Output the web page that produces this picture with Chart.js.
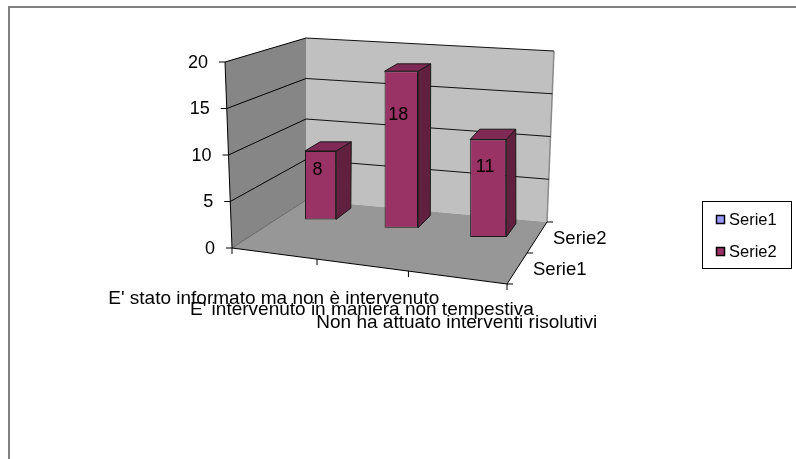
<!DOCTYPE html>
<html><head><meta charset="utf-8">
<script src="https://cdn.jsdelivr.net/npm/chart.js@4"></script>
<style>html,body{margin:0;padding:0;background:#fff;overflow:hidden}#wrap{width:796px;height:459px;position:relative}</style>
</head><body><div id="wrap"><canvas id="c" width="796" height="459"></canvas></div>
<script>
// ---- data ----
const categories = ["E' stato informato ma non è intervenuto", "E' intervenuto in maniera non tempestiva", "Non ha attuato interventi risolutivi"];
const seriesNames = ["Serie1", "Serie2"];
const serie1 = [null, null, null];
const serie2 = [8, 18, 11];
const valueMin = 0, valueMax = 20, valueStep = 5;

// ---- style ----
const seriesColors = ["#9999FF", "#993366"];
const sideColors = ["#66669a", "#62203f"];
const topColors = ["#7a7acc", "#7e2a55"];
const FONT = "'Liberation Sans', Arial, sans-serif";
// 3D box corners (px offsets from the front-left-bottom corner, for a 275x186 front plane)
const BOX = {
  flb:[0,0], flt:[-7,-186], frb:[275,36], frt:[284,-160],
  blb:[74,-48], blt:[74,-210], brb:[315,-26], brt:[322,-197],
  persp:-0.105, refW:275, refH:186
};
const BAR_DEPTH = 0.22;
const BAR_FRONT_INSET = 0.18; // front face position inside each series row (fraction of depth)

function proj(chart, u, d, v) {
  const ca = chart.chartArea, ys = chart.scales.y;
  const y0 = ys.getPixelForValue(valueMin);
  const H = y0 - ys.getPixelForValue(valueMax);
  const W = ca.right - ca.left;
  const t = (y0 - ys.getPixelForValue(v)) / H;
  const b = BOX.persp;
  const uu = (1 + b) * u / (1 + b * u);
  const sx = W / BOX.refW, sy = H / BOX.refH;
  const bil = (a, bb, c, dd) => [
    (1-uu)*(1-d)*a[0] + uu*(1-d)*bb[0] + (1-uu)*d*c[0] + uu*d*dd[0],
    (1-uu)*(1-d)*a[1] + uu*(1-d)*bb[1] + (1-uu)*d*c[1] + uu*d*dd[1]
  ];
  const bot = bil(BOX.flb, BOX.frb, BOX.blb, BOX.brb);
  const top = bil(BOX.flt, BOX.frt, BOX.blt, BOX.brt);
  return { x: ca.left + (bot[0] + t*(top[0]-bot[0]))*sx, y: y0 + (bot[1] + t*(top[1]-bot[1]))*sy };
}

function poly(ctx, pts, fill, stroke, lw) {
  ctx.beginPath();
  pts.forEach((p, i) => i ? ctx.lineTo(p.x, p.y) : ctx.moveTo(p.x, p.y));
  ctx.closePath();
  if (fill) { ctx.fillStyle = fill; ctx.fill(); }
  if (stroke) { ctx.strokeStyle = stroke; ctx.lineWidth = lw || 1; ctx.stroke(); }
}
function line(ctx, a, b, color, lw) {
  ctx.beginPath(); ctx.moveTo(a.x, a.y); ctx.lineTo(b.x, b.y);
  ctx.strokeStyle = color; ctx.lineWidth = lw || 1; ctx.stroke();
}

const plot3d = {
  id: 'plot3d',
  afterDatasetsUpdate(chart) {
    const ca = chart.chartArea, W = ca.right - ca.left;
    const n = chart.data.datasets.length;
    chart.data.datasets.forEach((ds, di) => {
      const meta = chart.getDatasetMeta(di);
      const df = (di + BAR_FRONT_INSET * 2) / n, db = df + BAR_DEPTH;
      meta.data.forEach((el, i) => {
        const v = ds.data[i];
        el.$3d = null;
        if (v == null) return;
        const u = (el.x - ca.left) / W, hw = el.width / 2 / W;
        const pL = proj(chart, u - hw, df, valueMin), pR = proj(chart, u + hw, df, valueMin);
        const pC = proj(chart, u, df, valueMin), pT = proj(chart, u, df, v);
        const bR0 = proj(chart, u + hw, db, valueMin), bRt = proj(chart, u + hw, db, v), fRt = proj(chart, u + hw, df, v);
        el.x = pC.x; el.base = pC.y; el.y = pT.y; el.width = pR.x - pL.x;
        el.$3d = { dBot: {x: bR0.x - pR.x, y: bR0.y - pR.y}, dTop: {x: bRt.x - fRt.x, y: bRt.y - fRt.y}, di, v };
      });
    });
  },
  beforeDatasetsDraw(chart) {
    const ctx = chart.ctx, ys = chart.scales.y;
    const P = (u, d, v) => proj(chart, u, d, v);
    ctx.save();
    // walls and floor
    poly(ctx, [P(0,0,valueMin), P(0,0,valueMax), P(0,1,valueMax), P(0,1,valueMin)], '#868686');
    poly(ctx, [P(0,1,valueMin), P(0,1,valueMax), P(1,1,valueMax), P(1,1,valueMin)], '#c0c0c0');
    poly(ctx, [P(0,0,valueMin), P(0,1,valueMin), P(1,1,valueMin), P(1,0,valueMin)], '#979797');
    line(ctx, P(1,1,valueMin), P(1,1,valueMax), '#8a8a8a', 1.5);
    line(ctx, P(0,0,valueMin), P(0,1,valueMin), '#555', 0.8);
    // gridlines
    ys.ticks.forEach(tk => {
      if (tk.value === valueMin) return;
      line(ctx, P(0,0,tk.value), P(0,1,tk.value), '#000', 1);
      line(ctx, P(0,1,tk.value), P(1,1,tk.value), '#111', 1.1);
    });
    // value axis
    line(ctx, P(0,0,valueMin), P(0,0,valueMax), '#000', 1);
    ctx.font = '18px ' + FONT; ctx.fillStyle = '#000';
    ctx.textAlign = 'right'; ctx.textBaseline = 'middle';
    ys.ticks.forEach(tk => {
      const p = P(0,0,tk.value);
      line(ctx, {x: p.x - 6, y: p.y}, p, '#000', 1);
      ctx.fillText(String(tk.value), p.x - 17, p.y + 1);
    });
    // category axis
    const nc = chart.data.labels.length;
    line(ctx, P(0,0,valueMin), P(1,0,valueMin), '#000', 1);
    for (let k = 0; k <= nc; k++) {
      const p = P(k/nc, 0, valueMin);
      line(ctx, p, {x: p.x, y: p.y + 6}, '#000', 1);
    }
    ctx.font = '19px ' + FONT; ctx.textAlign = 'center';
    chart.data.labels.forEach((lab, k) => {
      const p = P((k + 0.5)/nc, 0, valueMin);
      ctx.fillText(lab, p.x, p.y + 45);
    });
    // series (depth) axis
    const ns = chart.data.datasets.length;
    line(ctx, P(1,0,valueMin), P(1,1,valueMin), '#000', 1);
    for (let k = 0; k <= ns; k++) {
      const p = P(1, k/ns, valueMin);
      line(ctx, p, {x: p.x + 6, y: p.y}, '#000', 1);
    }
    ctx.font = '18.5px ' + FONT; ctx.textAlign = 'left';
    chart.data.datasets.forEach((ds, k) => {
      const p = P(1, (k + 0.5)/ns, valueMin);
      ctx.fillText(ds.label, p.x + 16, p.y + 1);
    });
    ctx.restore();
  },
  afterDatasetsDraw(chart) {
    const ctx = chart.ctx;
    ctx.save();
    ctx.lineJoin = 'round';
    chart.data.datasets.forEach((ds, di) => {
      chart.getDatasetMeta(di).data.forEach(el => {
        const g = el.$3d; if (!g) return;
        const l = el.x - el.width/2, r = el.x + el.width/2;
        const fRt = {x: r, y: el.y}, fRb = {x: r, y: el.base}, fLt = {x: l, y: el.y};
        const add = (p, d) => ({x: p.x + d.x, y: p.y + d.y});
        poly(ctx, [fRb, fRt, add(fRt, g.dTop), add(fRb, g.dBot)], sideColors[di], '#1a1a1a', 1);
        poly(ctx, [fLt, fRt, add(fRt, g.dTop), add(fLt, g.dTop)], topColors[di], '#1a1a1a', 1);
        ctx.font = '18px ' + FONT; ctx.fillStyle = '#000';
        ctx.textAlign = 'center'; ctx.textBaseline = 'middle';
        ctx.fillText(String(g.v), el.x - 3, el.y + 0.28 * (el.base - el.y));
      });
    });
    ctx.restore();
  },
  afterDraw(chart) {
    const ctx = chart.ctx;
    ctx.save();
    // legend
    const lg = {x: 702, y: 201, w: 89, h: 67};
    ctx.strokeStyle = '#000'; ctx.lineWidth = 1;
    ctx.strokeRect(lg.x + 0.5, lg.y + 0.5, lg.w, lg.h);
    ctx.font = '16.5px ' + FONT; ctx.textAlign = 'left'; ctx.textBaseline = 'middle';
    chart.data.datasets.forEach((ds, i) => {
      const cy = lg.y + 18.5 + i * 32;
      ctx.fillStyle = ds.backgroundColor;
      ctx.fillRect(lg.x + 14.5, cy - 4, 8, 8);
      ctx.lineWidth = 1.5; ctx.strokeStyle = '#000';
      ctx.strokeRect(lg.x + 14.5, cy - 4, 8, 8);
      ctx.fillStyle = '#000';
      ctx.fillText(ds.label, lg.x + 27, cy + 1);
    });
    // chart border
    ctx.strokeStyle = '#808080'; ctx.lineWidth = 2;
    ctx.strokeRect(9, 7, 800, 470);
    ctx.restore();
  }
};

new Chart(document.getElementById('c'), {
  type: 'bar',
  data: {
    labels: categories,
    datasets: [
      { label: seriesNames[0], data: serie1, backgroundColor: seriesColors[0] },
      { label: seriesNames[1], data: serie2, backgroundColor: seriesColors[1] }
    ]
  },
  options: {
    responsive: false, animation: false, events: [],
    layout: { padding: { left: 232, top: 62, right: 289, bottom: 211 } },
    plugins: { legend: { display: false }, tooltip: { enabled: false } },
    datasets: { bar: { grouped: false, categoryPercentage: 1, barPercentage: 0.4, borderSkipped: false, borderWidth: 1, borderColor: '#1a1a1a', clip: false } },
    scales: {
      x: { display: false, offset: true },
      y: { display: false, min: valueMin, max: valueMax, ticks: { stepSize: valueStep } }
    }
  },
  plugins: [plot3d]
});
</script>
</body></html>
